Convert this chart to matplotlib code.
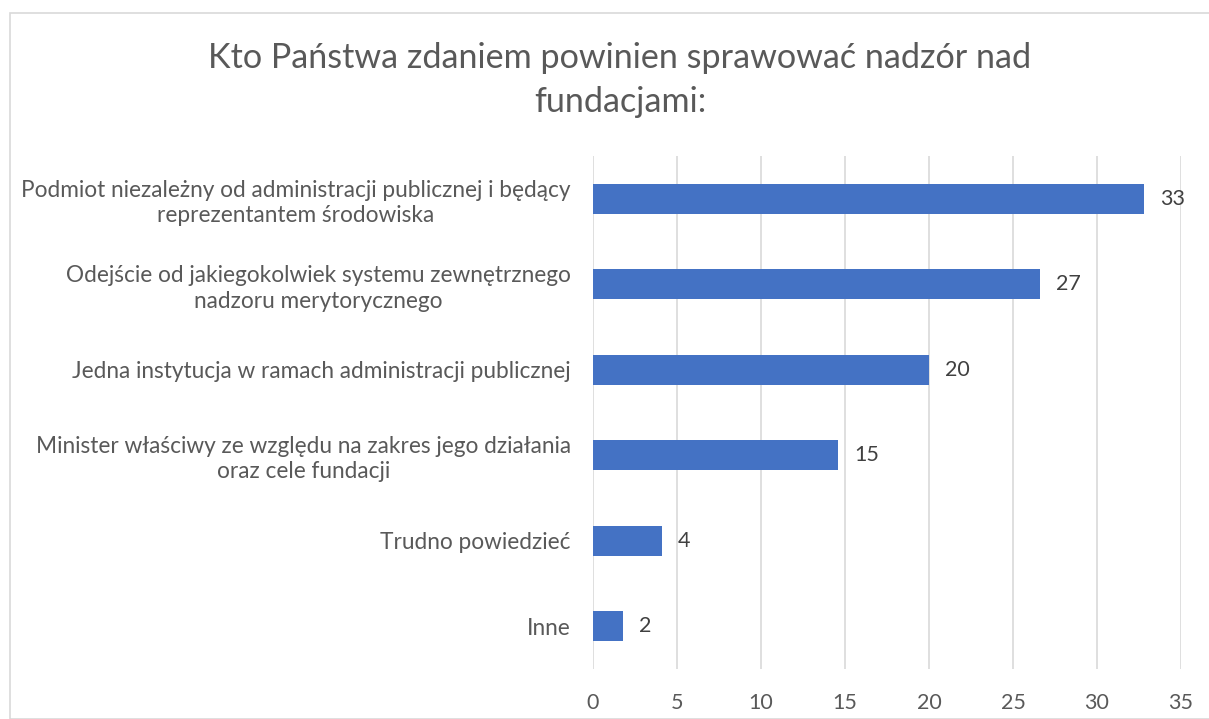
import matplotlib.pyplot as plt
from matplotlib.patches import Rectangle

categories = [
    "Podmiot niezależny od administracji publicznej i będący\nreprezentantem środowiska",
    "Odejście od jakiegokolwiek systemu zewnętrznego\nnadzoru merytorycznego",
    "Jedna instytucja w ramach administracji publicznej",
    "Minister właściwy ze względu na zakres jego działania\noraz cele fundacji",
    "Trudno powiedzieć",
    "Inne",
]
values = [32.8, 26.6, 20.0, 14.6, 4.1, 1.8]
x_ticks = [0, 5, 10, 15, 20, 25, 30, 35]
title = "Kto Państwa zdaniem powinien sprawować nadzór nad\nfundacjami:"

plt.rcParams['font.family'] = ['Lato', 'DejaVu Sans']
text_color = '#595959'
bar_color = '#4472c4'
grid_color = '#d9d9d9'

W, H = 1209, 719
fig = plt.figure(figsize=(W / 100, H / 100), dpi=100)
fig.patches.append(Rectangle((10 / W, 0), 1.2, 1 - 13 / H, transform=fig.transFigure,
                             fill=False, edgecolor=grid_color, linewidth=1.2))

ax = fig.add_axes([593 / W, 1 - 669 / H, (1181 - 593) / W, (669 - 156) / H])
y = list(range(len(categories)))
ax.barh(y, values, height=0.35, color=bar_color, zorder=3)
for yi, v in zip(y, values):
    ax.text(v + 0.95, yi, f"{round(v):d}", va='center', ha='left', fontsize=15.5, color='#404040')

ax.set_ylim(len(categories) - 0.5, -0.5)
ax.set_xlim(0, 35)
ax.set_xticks(x_ticks)
ax.set_yticks(y)
ax.set_yticklabels(categories, multialignment='center', fontsize=16.3, color=text_color,
                   linespacing=1.25)
ax.tick_params(axis='x', labelsize=15.5, labelcolor=text_color, length=0, pad=17)
ax.tick_params(axis='y', length=0, pad=16)
ax.grid(axis='x', color=grid_color, linewidth=1.2, zorder=0)
for s in ax.spines.values():
    s.set_visible(False)

fig.text(620 / W, 1 - 80 / H, title, ha='center', va='center', fontsize=24.6,
         color=text_color, multialignment='center', linespacing=1.5)

fig.savefig('out.png', dpi=100)
